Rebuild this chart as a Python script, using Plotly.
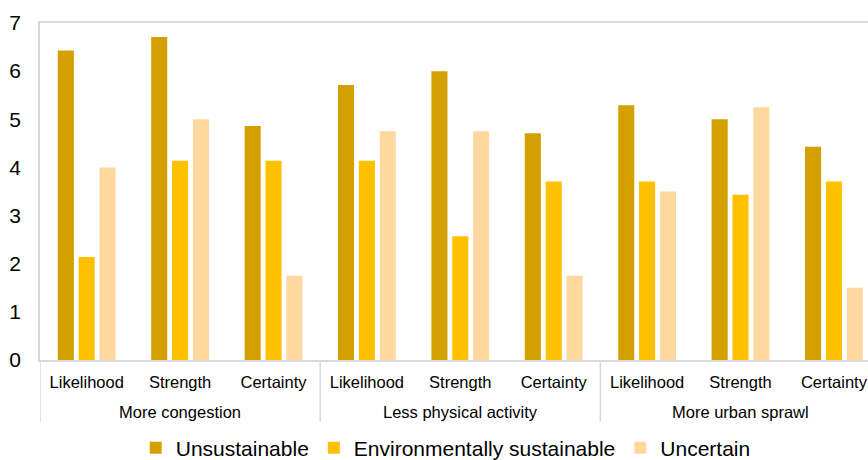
import plotly.graph_objects as go

# Hierarchical categories: outcome groups and assessment measures
groups = ["More congestion", "Less physical activity", "More urban sprawl"]
measures = ["Likelihood", "Strength", "Certainty"]

# Mean scores per group/measure (ordered group by group)
unsustainable = [6.43, 6.71, 4.86, 5.71, 6.00, 4.71, 5.29, 5.00, 4.43]
env_sustainable = [2.14, 4.14, 4.14, 4.14, 2.57, 3.71, 3.71, 3.43, 3.71]
uncertain = [4.00, 5.00, 1.75, 4.75, 4.75, 1.75, 3.50, 5.25, 1.50]

series_names = ["Unsustainable", "Environmentally sustainable", "Uncertain"]
series_colors = ["#D4A000", "#FFC000", "#FFD8A0"]

n_meas = len(measures)
positions = list(range(len(groups) * n_meas))
inner_labels = [m for _ in groups for m in measures]

fig = go.Figure()
for name, vals, col in zip(series_names, [unsustainable, env_sustainable, uncertain], series_colors):
    fig.add_trace(go.Bar(
        x=positions, y=vals, name=name,
        marker=dict(color=col, line=dict(width=0)),
    ))

# Outer group labels and the divider lines between groups
axis_px = 337.0  # plot height in px, used to convert offsets to paper units
for gi, g in enumerate(groups):
    fig.add_annotation(
        x=gi * n_meas + (n_meas - 1) / 2, y=0, xref="x", yref="paper",
        text=g, showarrow=False, yanchor="middle", yshift=-52,
        font=dict(size=16.5, color="#000000"),
    )
for gi in range(len(groups) + 1):
    xd = gi * n_meas - 0.5
    fig.add_shape(
        type="line", xref="x", yref="paper",
        x0=xd, x1=xd, y0=0, y1=-62 / axis_px,
        line=dict(color="#D9D9D9", width=1.5),
    )

font_family = "Liberation Sans, Arial, sans-serif"
fig.update_layout(
    width=868, height=460,
    margin=dict(l=40, r=0, t=23, b=100),
    paper_bgcolor="white", plot_bgcolor="white",
    barmode="group", bargap=0.33, bargroupgap=0.23,
    font=dict(family=font_family, color="#000000"),
    showlegend=True,
    legend=dict(
        orientation="h", x=0.49, xanchor="center",
        yref="container", y=0.026, yanchor="middle",
        font=dict(size=21, color="#000000"), itemclick=False,
    ),
)
fig.update_xaxes(
    range=[-0.5, 8.365],
    tickmode="array", tickvals=positions, ticktext=inner_labels,
    showline=True, linecolor="#D9D9D9", linewidth=1.5, mirror=True,
    tickfont=dict(size=16.5, color="#000000"),
    showgrid=False, zeroline=False,
    ticks="outside", ticklen=6, tickcolor="rgba(0,0,0,0)",
)
fig.update_yaxes(
    range=[0, 7], dtick=1, showgrid=False, zeroline=False,
    showline=True, linecolor="#D9D9D9", linewidth=1.5,
    ticks="outside", ticklen=13, tickcolor="rgba(0,0,0,0)",
    tickfont=dict(size=21, color="#000000"),
)

fig.write_html("out.html")
